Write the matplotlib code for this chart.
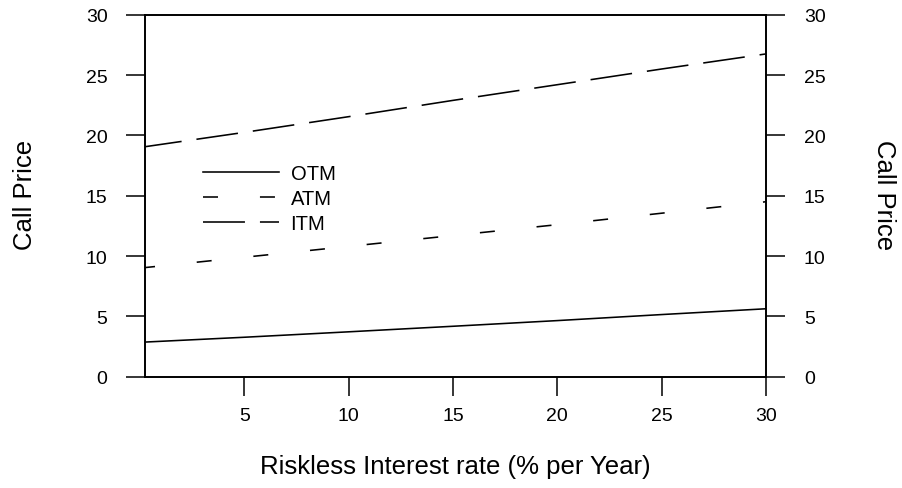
import matplotlib
matplotlib.use("Agg")
import matplotlib.pyplot as plt
from matplotlib.lines import Line2D

plt.rcParams["font.family"] = ["Liberation Sans", "DejaVu Sans"]
plt.rcParams["lines.scale_dashes"] = False

# riskless rate (% per year) and call prices
rate = [0, 5, 10, 15, 20, 25, 30]
otm = [2.85, 3.27, 3.72, 4.18, 4.65, 5.15, 5.63]
atm = [9.0, 9.9, 10.8, 11.7, 12.6, 13.55, 14.5]
itm = [19.0, 20.25, 21.55, 22.9, 24.2, 25.5, 26.75]

xticks = [5, 10, 15, 20, 25, 30]
yticks = [0, 5, 10, 15, 20, 25, 30]

fig = plt.figure(figsize=(9.03, 4.89), dpi=100)
ax = fig.add_axes([0.1609, 0.2276, 0.8483 - 0.1609, 0.9679 - 0.2276])

lw = 1.15
atm_dash = (0, (10.8, 30.2))
itm_dash = (0, (30.2, 10.8))

ax.plot(rate, otm, color="black", lw=lw, linestyle="-")
ax.plot(rate, atm, color="black", lw=lw, linestyle=atm_dash)
ax.plot(rate, itm, color="black", lw=lw, linestyle=itm_dash)

ax.set_xlim(0.25, 30)
ax.set_ylim(0, 30)
ax.set_xticks(xticks)
ax.set_yticks(yticks)

for s in ax.spines.values():
    s.set_linewidth(1.4)

ax.tick_params(axis="both", direction="out", length=13.7, width=1.1,
               labelsize=14, color="black")
ax.tick_params(axis="x", pad=8)
ax.tick_params(axis="y", pad=13.5, right=True, labelright=True)

fig.text(25 / 903, 1 - 195 / 489, "Call Price", rotation=90,
         ha="center", va="center", fontsize=18.5)
fig.text(884 / 903, 1 - 195 / 489, "Call Price", rotation=-90,
         ha="center", va="center", fontsize=18.5)
fig.text(455 / 903, 1 - 467 / 489, "Riskless Interest rate (% per Year)",
         ha="center", va="center", fontsize=18.5)

handles = [
    Line2D([], [], color="black", lw=lw, linestyle="-"),
    Line2D([], [], color="black", lw=lw, linestyle=atm_dash),
    Line2D([], [], color="black", lw=lw, linestyle=itm_dash),
]
ax.legend(handles, ["OTM", "ATM", "ITM"], loc="upper left",
          bbox_to_anchor=((203 - 145.3) / (766 - 145.3), (377.7 - 165) / 362),
          frameon=False, fontsize=14.5, handlelength=3.75, handletextpad=0.6,
          labelspacing=0.3, borderpad=0, borderaxespad=0)

fig.savefig("out.png", dpi=100)
